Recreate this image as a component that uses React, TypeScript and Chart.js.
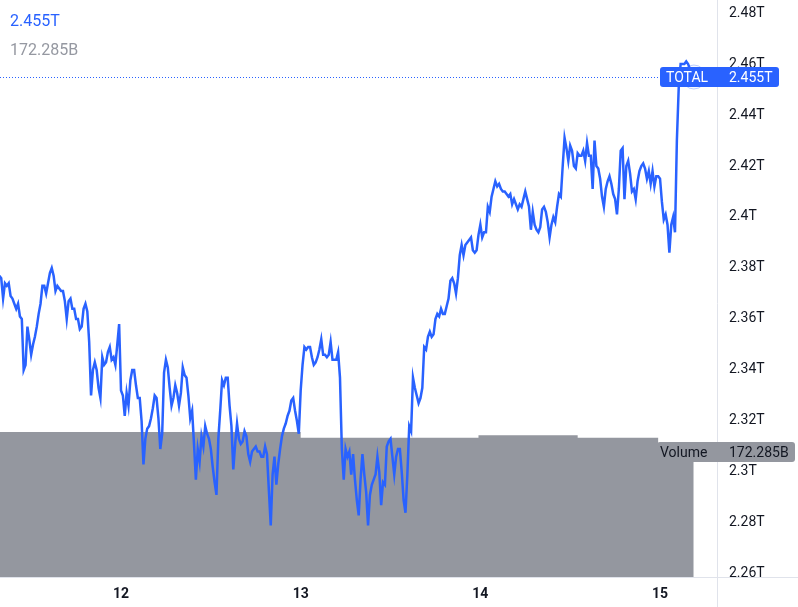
import React, { useEffect, useRef } from 'react';
import { Chart, registerables } from 'chart.js';

Chart.register(...registerables);

// Time axis: hours relative to day 12, 00:00. Series sampled every 15 minutes.
const START_HOUR = -16.25;
const STEP_HOURS = 0.25;

// TOTAL market cap, in billions (USD)
const totalValuesB = [
  2377, 2376, 2368, 2374, 2373, 2374, 2369, 2368, 2366, 2364,
  2366, 2361, 2360, 2340, 2342, 2357, 2352, 2346, 2350, 2353,
  2357, 2362, 2366, 2373, 2373, 2370, 2374, 2378, 2380, 2377,
  2371, 2373, 2372, 2371, 2371, 2367, 2360, 2367, 2368, 2364,
  2364, 2360, 2360, 2356, 2357, 2364, 2366, 2363, 2351, 2330,
  2340, 2343, 2340, 2333, 2329, 2345, 2342, 2343, 2347, 2349,
  2344, 2345, 2342, 2350, 2358, 2332, 2330, 2322, 2331, 2326,
  2336, 2340, 2340, 2334, 2329, 2329, 2320, 2303, 2313, 2317,
  2318, 2321, 2325, 2330, 2329, 2321, 2309, 2315, 2339, 2344,
  2341, 2333, 2326, 2329, 2334, 2331, 2326, 2331, 2341, 2338,
  2337, 2330, 2321, 2324, 2311, 2297, 2309, 2304, 2314, 2310,
  2318, 2315, 2313, 2309, 2302, 2296, 2291, 2313, 2324, 2336,
  2334, 2337, 2337, 2326, 2318, 2301, 2311, 2319, 2313, 2311,
  2312, 2316, 2314, 2307, 2304, 2308, 2309, 2310, 2308, 2308,
  2306, 2306, 2310, 2307, 2293, 2279, 2299, 2306, 2295, 2303,
  2309, 2314, 2317, 2319, 2322, 2324, 2328, 2329, 2324, 2320,
  2315, 2332, 2342, 2349, 2348, 2349, 2349, 2345, 2342, 2343,
  2345, 2348, 2352, 2346, 2346, 2345, 2346, 2351, 2344, 2344,
  2344, 2347, 2337, 2309, 2297, 2309, 2306, 2308, 2299, 2307,
  2297, 2289, 2283, 2297, 2307, 2299, 2292, 2279, 2291, 2295,
  2297, 2299, 2306, 2300, 2287, 2296, 2295, 2310, 2312, 2313,
  2306, 2299, 2306, 2309, 2309, 2300, 2289, 2284, 2299, 2318,
  2316, 2337, 2333, 2330, 2327, 2329, 2333, 2349, 2348, 2353,
  2355, 2353, 2354, 2360, 2362, 2361, 2364, 2362, 2362, 2365,
  2368, 2375, 2376, 2374, 2370, 2376, 2385, 2389, 2385, 2389,
  2390, 2391, 2392, 2387, 2386, 2387, 2393, 2397, 2392, 2394,
  2394, 2404, 2402, 2408, 2411, 2414, 2412, 2413, 2411, 2410,
  2410, 2409, 2408, 2409, 2405, 2407, 2405, 2403, 2405, 2404,
  2407, 2410, 2407, 2404, 2395, 2402, 2397, 2395, 2394, 2396,
  2403, 2404, 2402, 2398, 2392, 2397, 2400, 2398, 2404, 2409,
  2408, 2420, 2431, 2427, 2422, 2428, 2426, 2420, 2419, 2425,
  2424, 2424, 2426, 2422, 2429, 2424, 2424, 2411, 2430, 2420,
  2419, 2415, 2408, 2404, 2411, 2414, 2416, 2413, 2409, 2407,
  2401, 2411, 2426, 2427, 2407, 2420, 2422, 2417, 2410, 2411,
  2407, 2414, 2418, 2420, 2421, 2419, 2415, 2418, 2413, 2418,
  2412, 2416, 2416, 2415, 2406, 2399, 2401, 2397, 2386, 2397,
  2400, 2394, 2430, 2451, 2460, 2460, 2460, 2461, 2460, 2458,
  2455,
];

// Volume (billions), held from each listed hour until the next
const volumeHours = [-16.25, 24, 47.75, 61, 71.75, 76.5];
const volumeValuesB = [199.9, 192.0, 195.3, 192.0, 172.285, 172.285];

const dayTickHours = [0, 24, 48, 72];
const dayTickLabels = ['12', '13', '14', '15'];
const priceTicksB = [2260, 2280, 2300, 2320, 2340, 2360, 2380, 2400, 2420, 2440, 2460, 2480];

const SERIES_NAME = 'TOTAL';
const VOLUME_NAME = 'Volume';
const LAST_PRICE_LABEL = '2.455T';
const LAST_VOLUME_LABEL = '172.285B';

const X_MIN = -16.163;
const X_MAX = 79.61;
const Y_MIN = 2258.82;
const Y_MAX = 2485.1;
const VOL_MAX = 795.3;

const FONT = 'Roboto, "Liberation Sans", sans-serif';
const BLUE = '#2962FF';
const GREY = '#94979f';
const TEXT = '#131722';
const LINE = '#e0e3eb';

const fmtT = (v: number) => `${parseFloat((v / 1000).toFixed(2))}T`;

const overlayPlugin = {
  id: 'tvOverlay',
  afterDraw(chart: any) {
    const { ctx, chartArea, scales } = chart;
    const W = chart.width;
    const H = chart.height;
    const right = chartArea.right;
    const bottom = chartArea.bottom;
    ctx.save();

    // clear the corner below the price axis (cuts the lowest tick label)
    ctx.fillStyle = '#ffffff';
    ctx.fillRect(right + 1, bottom, W - right, H - bottom);

    // axis separator lines
    ctx.strokeStyle = LINE;
    ctx.lineWidth = 1;
    ctx.beginPath();
    ctx.moveTo(right + 0.5, 0);
    ctx.lineTo(right + 0.5, H);
    ctx.moveTo(0, bottom + 0.5);
    ctx.lineTo(W, bottom + 0.5);
    ctx.stroke();

    const lastV = totalValuesB[totalValuesB.length - 1];
    const lastH = START_HOUR + (totalValuesB.length - 1) * STEP_HOURS;
    const py = Math.round(scales.y.getPixelForValue(lastV));
    const px = scales.x.getPixelForValue(lastH);
    const boxLeft = right - 57;

    // last-price dotted line
    ctx.strokeStyle = BLUE;
    ctx.setLineDash([1, 2]);
    ctx.beginPath();
    ctx.moveTo(0, py + 0.5);
    ctx.lineTo(boxLeft, py + 0.5);
    ctx.stroke();
    ctx.setLineDash([]);

    // faint circle at last point
    ctx.strokeStyle = 'rgba(41,98,255,0.3)';
    ctx.fillStyle = 'rgba(41,98,255,0.04)';
    ctx.beginPath();
    ctx.arc(px + 2, py, 12, 0, Math.PI * 2);
    ctx.fill();
    ctx.stroke();

    const roundRect = (x: number, y: number, w: number, h: number, r: number) => {
      ctx.beginPath();
      ctx.moveTo(x + r, y);
      ctx.lineTo(x + w - r, y);
      ctx.quadraticCurveTo(x + w, y, x + w, y + r);
      ctx.lineTo(x + w, y + h - r);
      ctx.quadraticCurveTo(x + w, y + h, x + w - r, y + h);
      ctx.lineTo(x + r, y + h);
      ctx.quadraticCurveTo(x, y + h, x, y + h - r);
      ctx.lineTo(x, y + r);
      ctx.quadraticCurveTo(x, y, x + r, y);
      ctx.closePath();
    };

    // price label
    ctx.fillStyle = BLUE;
    roundRect(boxLeft, py - 10, 119, 20, 3);
    ctx.fill();
    ctx.font = `14px ${FONT}`;
    ctx.textBaseline = 'middle';
    ctx.textAlign = 'left';
    ctx.fillStyle = '#ffffff';
    ctx.fillText(SERIES_NAME, boxLeft + 6, py + 1);
    ctx.fillText(LAST_PRICE_LABEL, right + 12, py + 1);

    // volume label
    const lastVol = volumeValuesB[volumeValuesB.length - 1];
    const vy = Math.round(scales.yVol.getPixelForValue(lastVol));
    ctx.fillStyle = GREY;
    roundRect(boxLeft - 3, vy - 10, W - 3 - (boxLeft - 3), 20, 3);
    ctx.fill();
    ctx.fillStyle = TEXT;
    ctx.fillText(VOLUME_NAME, boxLeft, vy + 1);
    ctx.fillText(LAST_VOLUME_LABEL, right + 12, vy + 1);

    // top-left legend
    ctx.font = `16px ${FONT}`;
    ctx.fillStyle = BLUE;
    ctx.fillText(LAST_PRICE_LABEL, 10, 22);
    ctx.fillStyle = '#9598a1';
    ctx.fillText(LAST_VOLUME_LABEL, 10, 51);

    ctx.restore();
  },
};

export default function App() {
  const canvasRef = useRef<HTMLCanvasElement | null>(null);

  useEffect(() => {
    if (!canvasRef.current) return;
    const chart = new Chart(canvasRef.current, {
      type: 'line',
      data: {
        datasets: [
          {
            label: SERIES_NAME,
            data: totalValuesB.map((v, i) => ({ x: START_HOUR + i * STEP_HOURS, y: v })),
            borderColor: BLUE,
            borderWidth: 2.5,
            pointRadius: 0,
            tension: 0,
            fill: false,
            yAxisID: 'y',
            order: 0,
          },
          {
            label: VOLUME_NAME,
            data: volumeHours.map((h, i) => ({ x: h, y: volumeValuesB[i] })),
            stepped: true,
            borderWidth: 0,
            borderColor: 'rgba(0,0,0,0)',
            backgroundColor: GREY,
            fill: 'start',
            pointRadius: 0,
            yAxisID: 'yVol',
            order: 1,
          },
        ],
      },
      options: {
        animation: false,
        responsive: false,
        maintainAspectRatio: false,
        events: [],
        layout: { padding: 0 },
        plugins: { legend: { display: false }, tooltip: { enabled: false } },
        scales: {
          x: {
            type: 'linear',
            min: X_MIN,
            max: X_MAX,
            grid: { display: false, drawTicks: false, tickLength: 0 },
            border: { display: false },
            afterBuildTicks: (s: any) => {
              s.ticks = dayTickHours.map((v) => ({ value: v }));
            },
            afterFit: (s: any) => {
              s.height = 30;
              s.paddingLeft = 0;
              s.paddingRight = 0;
              s.paddingTop = 0;
              s.paddingBottom = 0;
            },
            ticks: {
              autoSkip: false,
              maxRotation: 0,
              padding: 9,
              color: TEXT,
              font: { family: FONT, size: 14, weight: 'bold' },
              callback: (value: any) => {
                const idx = dayTickHours.indexOf(Number(value));
                return idx >= 0 ? dayTickLabels[idx] : '';
              },
            },
          },
          y: {
            type: 'linear',
            position: 'right',
            min: Y_MIN,
            max: Y_MAX,
            grid: { display: false, drawTicks: false, tickLength: 0 },
            border: { display: false },
            afterBuildTicks: (s: any) => {
              s.ticks = priceTicksB.map((v) => ({ value: v }));
            },
            afterFit: (s: any) => {
              s.width = 81;
              s.paddingTop = 0;
              s.paddingBottom = 0;
              s.paddingLeft = 0;
              s.paddingRight = 0;
            },
            ticks: {
              autoSkip: false,
              padding: 12,
              color: TEXT,
              font: { family: FONT, size: 14 },
              callback: (value: any) => fmtT(Number(value)),
            },
          },
          yVol: {
            type: 'linear',
            display: false,
            min: 0,
            max: VOL_MAX,
          },
        },
      },
      plugins: [overlayPlugin],
    } as any);
    return () => chart.destroy();
  }, []);

  return (
    <div style={{ position: 'fixed', left: 0, top: 0, width: 798, height: 607, background: '#ffffff' }}>
      <canvas ref={canvasRef} width={798} height={607} style={{ display: 'block', width: 798, height: 607 }} />
    </div>
  );
}
